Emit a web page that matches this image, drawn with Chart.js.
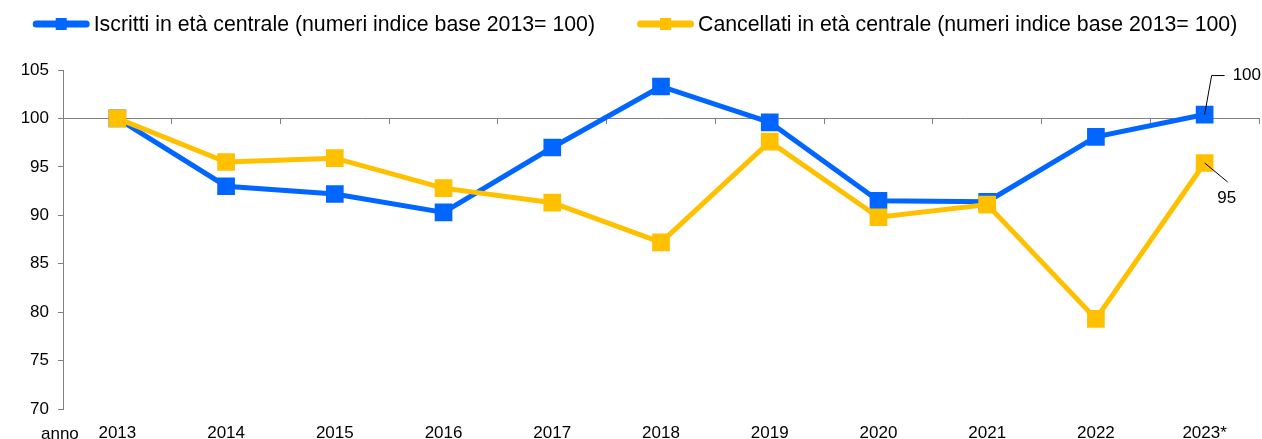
<!DOCTYPE html>
<html>
<head>
<meta charset="utf-8">
<script src="https://cdn.jsdelivr.net/npm/chart.js@4/dist/chart.umd.min.js"></script>
<style>
  html, body { margin: 0; padding: 0; background: #fff; }
</style>
</head>
<body>
<canvas id="chart" width="1262" height="439"></canvas>
<script>
// dati
const anni = ['2013', '2014', '2015', '2016', '2017', '2018', '2019', '2020', '2021', '2022', '2023*'];
const iscritti = [100, 93.0, 92.2, 90.3, 97.0, 103.3, 99.6, 91.5, 91.4, 98.1, 100.4];
const cancellati = [100, 95.5, 95.9, 92.8, 91.3, 87.2, 97.6, 89.8, 91.1, 79.3, 95.4];
const etichetteFinali = ['100', '95'];
const yMin = 70, yMax = 105, yStep = 5;

const BLU = '#0066ff';
const GIALLO = '#ffc000';
const GRIGIO = '#808080';
const FONT = 'Arial, "Liberation Sans", sans-serif';

const nomi = [
  'Iscritti in età centrale (numeri indice base 2013= 100)',
  'Cancellati in età centrale (numeri indice base 2013= 100)'
];

// legenda, "anno" ed etichette finali disegnate a mano
const extraPlugin = {
  id: 'extra',
  afterDraw(chart) {
    const ctx = chart.ctx;
    const area = chart.chartArea;
    ctx.save();

    // legenda
    ctx.font = '21.3px ' + FONT;
    ctx.textBaseline = 'alphabetic';
    const colori = [BLU, GIALLO];
    const lineW = 57, gap = 4, spazio = 42;
    const larghezze = nomi.map(n => lineW + gap + ctx.measureText(n).width);
    const tot = larghezze[0] + spazio + larghezze[1];
    let x = (chart.width - tot) / 2 + 4;
    const ly = 24;
    nomi.forEach((n, i) => {
      ctx.strokeStyle = colori[i];
      ctx.lineWidth = 7;
      ctx.lineCap = 'round';
      ctx.beginPath();
      ctx.moveTo(x + 3.5, ly);
      ctx.lineTo(x + lineW - 3.5, ly);
      ctx.stroke();
      ctx.fillStyle = colori[i];
      ctx.fillRect(x + lineW / 2 - 5.5, ly - 6, 11, 12);
      ctx.fillStyle = '#000';
      ctx.textAlign = 'left';
      ctx.fillText(n, x + lineW + gap, 31);
      x += larghezze[i] + spazio;
    });

    // "anno"
    ctx.font = '17px ' + FONT;
    ctx.textBaseline = 'alphabetic';
    ctx.textAlign = 'left';
    ctx.fillText('anno', area.left - 22, chart.height);

    // etichette sull'ultimo punto
    ctx.strokeStyle = '#000';
    ctx.lineWidth = 1;
    ctx.lineCap = 'butt';
    const p1 = chart.getDatasetMeta(1).data[anni.length - 1];
    const p0 = chart.getDatasetMeta(0).data[anni.length - 1];
    ctx.beginPath();
    ctx.moveTo(p1.x, p1.y);
    ctx.lineTo(p1.x + 7, p1.y - 39);
    ctx.lineTo(p1.x + 20, p1.y - 39);
    ctx.stroke();
    ctx.textBaseline = 'middle';
    ctx.fillText(etichetteFinali[0], p1.x + 28, p1.y - 39);

    ctx.beginPath();
    ctx.moveTo(p0.x, p0.y);
    ctx.lineTo(p0.x + 23, p0.y + 19);
    ctx.stroke();
    ctx.textAlign = 'center';
    ctx.fillText(etichetteFinali[1], p0.x + 22, p0.y + 35);

    ctx.restore();
  }
};

new Chart(document.getElementById('chart'), {
  type: 'line',
  data: {
    labels: anni,
    datasets: [
      {
        label: nomi[1],
        data: cancellati,
        borderColor: GIALLO,
        backgroundColor: GIALLO,
        borderWidth: 5,
        pointStyle: 'rect',
        pointRadius: 12.5,
        pointBorderWidth: 0,
        tension: 0,
        order: 0
      },
      {
        label: nomi[0],
        data: iscritti,
        borderColor: BLU,
        backgroundColor: BLU,
        borderWidth: 5,
        pointStyle: 'rect',
        pointRadius: 12.5,
        pointBorderWidth: 0,
        tension: 0,
        order: 1
      }
    ]
  },
  options: {
    responsive: false,
    animation: false,
    devicePixelRatio: 1,
    layout: { autoPadding: false, padding: { top: 70, right: 3, left: 0, bottom: 0 } },
    plugins: {
      legend: { display: false },
      tooltip: { enabled: false }
    },
    scales: {
      x: {
        type: 'category',
        position: 'bottom',
        offset: true,
        grid: { display: false, drawTicks: false },
        border: { display: false },
        ticks: { color: '#000', font: { family: FONT, size: 17 }, padding: 14, maxRotation: 0 },
        afterFit(scale) {
          scale.height = 30;
          scale.paddingLeft = 0;
          scale.paddingRight = 0;
        }
      },
      x2: {
        type: 'category',
        labels: anni,
        position: { y: 100 },
        offset: true,
        grid: { drawOnChartArea: false, drawTicks: true, tickLength: 5, color: GRIGIO, offset: true },
        border: { display: true, color: GRIGIO, width: 1 },
        ticks: { display: false },
        afterFit(scale) {
          scale.paddingLeft = 0;
          scale.paddingRight = 0;
        }
      },
      y: {
        min: yMin,
        max: yMax,
        ticks: { stepSize: yStep, color: '#000', font: { family: FONT, size: 17 }, padding: 9 },
        grid: { drawOnChartArea: false, drawTicks: true, tickLength: 5, color: GRIGIO },
        border: { display: true, color: GRIGIO, width: 1 },
        afterFit(scale) { scale.width = 63; }
      }
    }
  },
  plugins: [extraPlugin]
});
</script>
</body>
</html>
